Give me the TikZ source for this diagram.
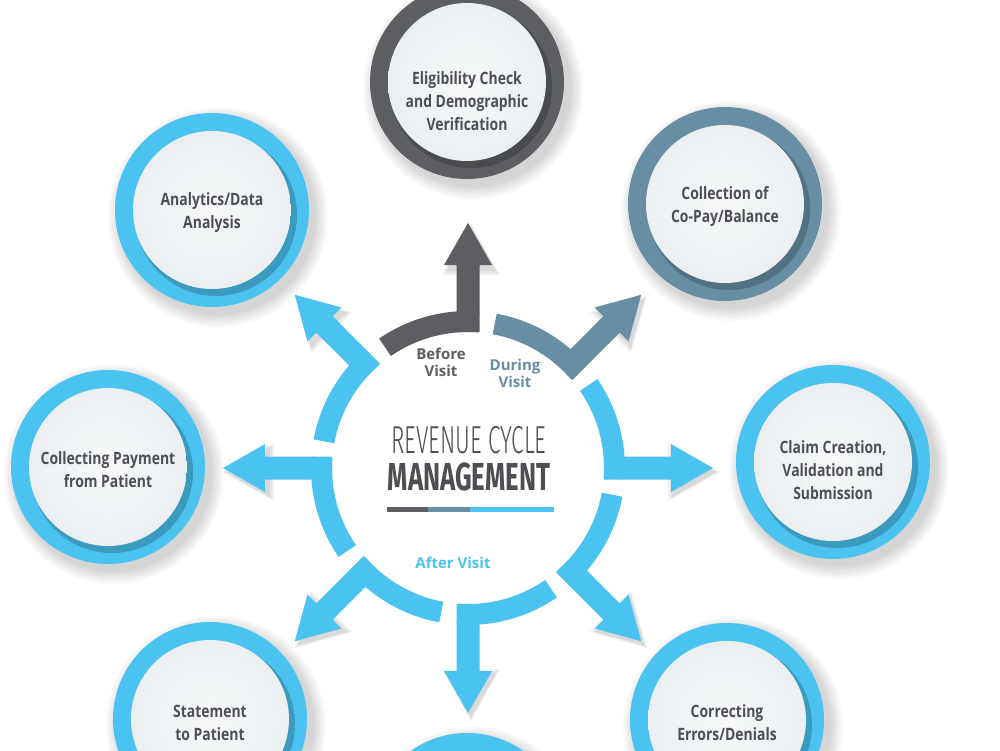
\documentclass[tikz,border=0pt]{standalone}
\usepackage{fontspec}
\setmainfont{Open Sans}
\newfontfamily\discfont{Open Sans}[FakeStretch=0.82]
\newfontfamily\titlethin{Fira Sans Light}[FakeStretch=0.58]
\newfontfamily\titlebold{Fira Sans}[FakeStretch=0.66]
\usetikzlibrary{arrows.meta, positioning, calc}
\definecolor{ringsky}{HTML}{4BC3F0}
\definecolor{ringslate}{HTML}{688EA3}
\definecolor{ringdark}{HTML}{5D5E61}
\definecolor{inktext}{HTML}{4E4F52}
\definecolor{discface}{HTML}{EBEFF1}
\newcommand{\stagedisc}[5][-3pt]{%
  \foreach \s in {2,4,...,14}
    \fill[black, opacity=0.022] ($(#3)+(6,-7)$) circle[radius=96+\s];
  \node[circle, fill=#4, minimum size=194pt, inner sep=0pt] (#2) at (#3) {};
  \fill[#4!55!black, opacity=0.45] ($(#2)+(4,-5)$) circle[radius=81];
  \node[circle, minimum size=158pt, inner sep=0pt, inner color=white!60!discface,
        outer color=discface] at (#2) {};
  \node[text=inktext, align=center, yshift=#1,
        font=\discfont\bfseries\fontsize{17}{23}\selectfont] (#2-text) at (#2) {#5};}
\newcommand{\ringarrow}[2]{%
  \draw[#2, line width=21pt] (#1+34.5:146.5pt)
        arc[start angle=#1+34.5, end angle=#1-4.2, radius=146.5pt];
  \foreach \s in {0,2,4}
    \fill[black, opacity=0.05, shift={(3,-4)}, rotate=#1]
         (201-\s,-25-\s) -- (245+\s,0) -- (201-\s,25+\s) -- cycle;
  \fill[#2, rotate=#1] (136,-11.5) -- (203,-11.5) -- (203,-24) -- (245,0)
        -- (203,24) -- (203,11.5) -- (136,11.5) -- cycle;}

\begin{document}
\begin{tikzpicture}[x=1pt, y=1pt]
  \fill[white] (-468,-282) rectangle (532,468);
  \useasboundingbox (-468,-282) rectangle (532,468);
  \stagedisc[-19pt]{elig}{-1,386}{ringdark}{Eligibility Check\\and Demographic\\Verification}
  \stagedisc{copay}{257,264}{ringslate}{Collection of\\Co-Pay/Balance}
  \stagedisc[-8pt]{claim}{365,6}{ringsky}{Claim Creation,\\Validation and\\Submission}
  \stagedisc{denials}{259,-252}{ringsky}{Correcting\\Errors/Denials}
  \stagedisc{bottomstage}{-1,-362}{ringsky}{}
  \stagedisc[-4pt]{statement}{-258,-251}{ringsky}{Statement\\to Patient}
  \stagedisc{payment}{-360,1}{ringsky}{Collecting Payment\\from Patient}
  \stagedisc{analytics}{-256,258}{ringsky}{Analytics/Data\\Analysis}
  \foreach \a/\c in {0/ringsky, 45/ringslate, 90/ringdark, 135/ringsky,
                     180/ringsky, 225/ringsky, 270/ringsky, 315/ringsky}
    {\ringarrow{\a}{\c}}
  \node[text=ringdark, align=center, font=\bfseries\fontsize{15}{17}\selectfont]
       (before) at (-27,106) {Before\\Visit};
  \node[text=ringslate, align=center, font=\bfseries\fontsize{15}{17}\selectfont]
       (during) at (47,95) {During\\Visit};
  \node[text=ringsky, font=\bfseries\fontsize{15}{17}\selectfont]
       (after) at (-15,-95) {After Visit};
  \node[text=inktext, inner sep=0pt, font=\titlethin\fontsize{39}{39}\selectfont]
       (revenue) at (1,28) {REVENUE CYCLE};
  \node[text=inktext, inner sep=0pt, below=9pt of revenue,
        font=\titlebold\bfseries\fontsize{39}{39}\selectfont] (mgmt) {MANAGEMENT};
  \draw[ringdark, line width=5pt] (-81,-41.5) -- (-40,-41.5);
  \draw[ringslate, line width=5pt] (-40,-41.5) -- (2,-41.5);
  \draw[ringsky, line width=5pt] (2,-41.5) -- (86,-41.5);
\end{tikzpicture}
\end{document}
